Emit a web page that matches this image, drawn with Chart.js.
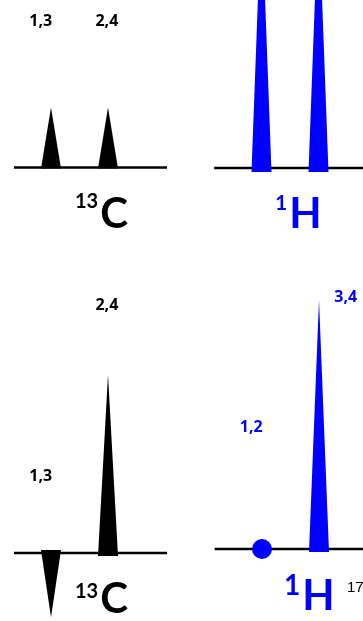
<!DOCTYPE html>
<html>
<head>
<meta charset="utf-8">
<script src="https://cdn.jsdelivr.net/npm/chart.js@4.4.0/dist/chart.umd.min.js"></script>
<style>
    body { margin: 0; background: #fff; width: 363px; height: 621px; overflow: hidden; position: relative; }
    canvas { position: absolute; }
</style>
</head>
<body>
<canvas id="carbonBefore" width="182" height="250" style="left:0;top:0"></canvas>
<canvas id="protonBefore" width="181" height="250" style="left:182px;top:0"></canvas>
<canvas id="carbonAfter" width="182" height="371" style="left:0;top:250px"></canvas>
<canvas id="protonAfter" width="181" height="371" style="left:182px;top:250px"></canvas>
<script>
// Posiciones de los picos (unidades arbitrarias de desplazamiento)
const sites = [1, 2];

// Intensidades relativas
const carbonNormal = [1, 1];
const protonNormal = [4.4, 4.4];
const carbonInept = [-1.07, 2.97];
const protonInept = [0, 4.15];

// Etiquetas de los picos y donde van (x, intensidad)
const carbonTopLabels = ['1,3', '2,4'];
const carbonTopLabelX = [0.82, 1.98];
const carbonTopLabelY = [2.44, 2.44];
const carbonBottomLabels = ['1,3', '2,4'];
const carbonBottomLabelX = [0.82, 1.98];
const carbonBottomLabelY = [1.27, 4.12];
const protonBottomLabels = ['1,2', '3,4'];
const protonBottomLabelX = [0.81, 2.47];
const protonBottomLabelY = [2.03, 4.2];

const PX_X = 57;   // pixeles por unidad en x
const PX_Y = 60;   // pixeles por unidad en y
const HALF_WIDTH = 10 / PX_X;
const BLUE = '#0000ff';

// Plugin para dibujar etiquetas y el nombre del núcleo
const textPlugin = {
    id: 'textos',
    afterDraw(chart) {
        const ctx = chart.ctx;
        const opts = chart.options.plugins.textos;
        ctx.save();
        ctx.textAlign = 'center';
        ctx.textBaseline = 'middle';
        ctx.fillStyle = opts.color;
        ctx.font = 'bold 16px "Open Sans"';
        opts.labels.forEach((t, i) => {
            ctx.fillText(t, chart.scales.x.getPixelForValue(opts.labelX[i]), chart.scales.y.getPixelForValue(opts.labelY[i]));
        });
        // Núcleo con superíndice
        const n = opts.nucleus;
        ctx.textAlign = 'left';
        ctx.textBaseline = 'alphabetic';
        ctx.font = 'bold ' + n.supSize + 'px Lato';
        ctx.fillText(n.sup, n.x, n.supBase);
        const w = ctx.measureText(n.sup).width;
        ctx.font = 'bold 42px Lato';
        ctx.fillText(n.main, n.x + w + 2, n.base);
        if (opts.note) {
            ctx.fillStyle = '#000';
            ctx.font = '15px "Liberation Sans"';
            ctx.fillText(opts.note.text, opts.note.x, opts.note.y);
        }
        ctx.restore();
    }
};

function crearPanel(id, values, color, cfg) {
    const canvas = document.getElementById(id);
    const datasets = [];
    values.forEach((h, i) => {
        const s = sites[i];
        if (h === 0) {
            // pico nulo: se marca con un punto
            datasets.push({
                data: [{ x: s, y: 0 }],
                pointRadius: 10,
                pointBackgroundColor: color,
                pointBorderWidth: 0,
                showLine: false,
                order: 0
            });
            return;
        }
        const foot = -Math.sign(h) * cfg.foot / PX_Y;
        datasets.push({
            data: [{ x: s - HALF_WIDTH, y: foot }, { x: s, y: h }, { x: s + HALF_WIDTH, y: foot }],
            showLine: true,
            fill: 'shape',
            backgroundColor: color,
            borderColor: color,
            borderWidth: 0,
            pointRadius: 0,
            tension: 0,
            order: 0
        });
    });
    // línea base
    datasets.push({
        data: [{ x: cfg.lineFrom, y: 0 }, { x: cfg.lineTo, y: 0 }],
        showLine: true,
        borderColor: '#000',
        borderWidth: 2.5,
        pointRadius: 0,
        fill: false,
        order: 1
    });

    const xMin = 1 - cfg.peakPx / PX_X;
    const yMax = cfg.basePx / PX_Y;

    return new Chart(canvas.getContext('2d'), {
        type: 'scatter',
        data: { datasets: datasets },
        options: {
            responsive: false,
            animation: false,
            devicePixelRatio: 1,
            events: [],
            layout: { padding: 0, autoPadding: false },
            scales: {
                x: { type: 'linear', display: false, min: xMin, max: xMin + canvas.width / PX_X },
                y: { type: 'linear', display: false, min: yMax - canvas.height / PX_Y, max: yMax }
            },
            plugins: {
                legend: { display: false },
                tooltip: { enabled: false },
                textos: cfg.text
            }
        },
        plugins: [textPlugin]
    });
}

crearPanel('carbonBefore', carbonNormal, '#000', {
    peakPx: 51, basePx: 167.5, lineFrom: 0.35, lineTo: 3.035, foot: 1,
    text: {
        color: '#000', labels: carbonTopLabels, labelX: carbonTopLabelX, labelY: carbonTopLabelY,
        nucleus: { sup: '13', main: 'C', x: 75, supBase: 208, supSize: 20, base: 228 }
    }
});

crearPanel('protonBefore', protonNormal, BLUE, {
    peakPx: 79.5, basePx: 168, lineFrom: 0.17, lineTo: 3, foot: 4,
    text: {
        color: BLUE, labels: [], labelX: [], labelY: [],
        nucleus: { sup: '1', main: 'H', x: 93, supBase: 210, supSize: 21, base: 228 }
    }
});

crearPanel('carbonAfter', carbonInept, '#000', {
    peakPx: 51, basePx: 303, lineFrom: 0.35, lineTo: 3.035, foot: 3,
    text: {
        color: '#000', labels: carbonBottomLabels, labelX: carbonBottomLabelX, labelY: carbonBottomLabelY,
        nucleus: { sup: '13', main: 'C', x: 75, supBase: 348, supSize: 20, base: 363 }
    }
});

crearPanel('protonAfter', protonInept, BLUE, {
    peakPx: 80, basePx: 299, lineFrom: 0.17, lineTo: 3, foot: 3,
    text: {
        color: BLUE, labels: protonBottomLabels, labelX: protonBottomLabelX, labelY: protonBottomLabelY,
        nucleus: { sup: '1', main: 'H', x: 102, supBase: 345, supSize: 28, base: 360 },
        note: { text: '17', x: 165, y: 342 }
    }
});
</script>
</body>
</html>
